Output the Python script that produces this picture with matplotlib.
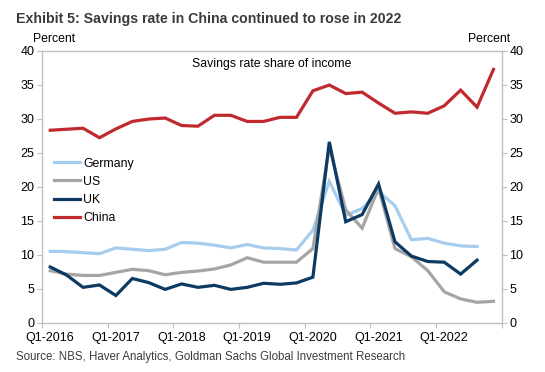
import numpy as np
import matplotlib.pyplot as plt

plt.rcParams['font.family'] = ['Liberation Sans', 'DejaVu Sans']

# Quarterly data, Q1-2016 .. Q4-2022
quarters = [f"Q{q}-{y}" for y in range(2016, 2023) for q in range(1, 5)]
germany = [10.5, 10.45, 10.3, 10.15, 11.0, 10.8, 10.6, 10.8, 11.8, 11.7, 11.4, 11.0, 11.5, 11.0,
           10.9, 10.7, 13.6, 20.8, 15.8, 16.8, 19.3, 17.2, 12.2, 12.4, 11.7, 11.3, 11.2]
us = [7.65, 7.15, 6.95, 6.95, 7.4, 7.85, 7.65, 7.05, 7.4, 7.6, 7.9, 8.5, 9.55, 8.9,
      8.9, 8.9, 10.9, 25.8, 16.6, 13.9, 19.8, 10.9, 9.7, 7.65, 4.55, 3.5, 3.0, 3.15]
uk = [8.2, 7.0, 5.2, 5.55, 4.0, 6.5, 5.9, 4.9, 5.7, 5.2, 5.5, 4.9, 5.2, 5.8,
      5.65, 5.85, 6.7, 26.6, 14.85, 15.9, 20.4, 11.9, 9.8, 9.0, 8.9, 7.15, 9.2]
china = [28.3, 28.45, 28.6, 27.2, 28.5, 29.6, 29.95, 30.1, 29.0, 28.9, 30.5, 30.5, 29.6, 29.6,
         30.2, 30.2, 34.1, 34.95, 33.7, 33.9, 32.3, 30.8, 31.0, 30.8, 31.9, 34.2, 31.7, 37.25]

series = [("Germany", germany, "#A7CDEE"),
          ("US", us, "#A5A5A5"),
          ("UK", uk, "#0D3A63"),
          ("China", china, "#C0292E")]

fig = plt.figure(figsize=(5.45, 3.72), dpi=100)
ax = fig.add_axes([0.0771, 0.1325, 0.8434, 0.7312])

for name, vals, col in series:
    x = np.arange(len(vals)) + 0.5
    ax.plot(x, vals, color=col, lw=2.3, label=name, solid_joinstyle='miter')

ax.set_xlim(0, len(quarters))
ax.set_ylim(0, 40)
ax.set_yticks(range(0, 41, 5))
ax.set_xticks(range(0, len(quarters) + 1, 4))
ax.set_xticklabels([])
ax.set_xticks(np.arange(0, len(quarters), 4) + 0.5, minor=True)
ax.set_xticklabels(quarters[::4], minor=True)
ax.tick_params(axis='x', which='minor', length=0, pad=7, labelsize=9)
ax.tick_params(axis='x', which='major', length=3.5, color='#BFBFBF')
ax.tick_params(axis='y', length=3.5, color='#BFBFBF', labelsize=9, pad=2,
               labelright=True, right=True)
for s in ax.spines.values():
    s.set_color('#BFBFBF')
    s.set_linewidth(1.0)

ax.text(0.5, 0.975, "Savings rate share of income", transform=ax.transAxes,
        ha='center', va='top', fontsize=8.8)

leg = ax.legend(loc='upper left', bbox_to_anchor=(0.025, 0.607), frameon=False,
                fontsize=8.8, handlelength=2.2, handletextpad=0.25,
                labelspacing=0.5, borderpad=0, borderaxespad=0)

fig.text(0.061, 0.895, "Percent", fontsize=8.8, ha='left', va='center')
fig.text(0.936, 0.895, "Percent", fontsize=8.8, ha='right', va='center')
fig.text(0.029, 0.948, "Exhibit 5: Savings rate in China continued to rose in 2022",
         fontsize=10.2, fontweight='bold', color='#3C3C3C', ha='left', va='center')
fig.text(0.030, 0.04, "Source: NBS, Haver Analytics, Goldman Sachs Global Investment Research",
         fontsize=8.3, color='#3C3C3C', ha='left', va='center')

fig.savefig("out.png", dpi=100)
